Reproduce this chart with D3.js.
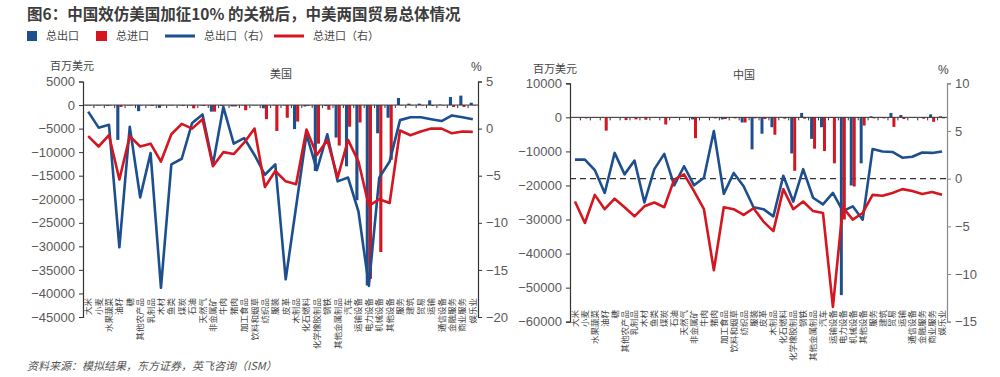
<!DOCTYPE html>
<html>
<head>
<meta charset="utf-8">
<script src="https://cdn.jsdelivr.net/npm/d3@7"></script>
<style>
  body { margin: 0; background: #fff; }
  svg { display: block; font-family: "Liberation Sans", Arial, "Noto Sans CJK SC", sans-serif; }
  .cn { font-family: "Noto Sans CJK SC", sans-serif; }
</style>
</head>
<body>
<div id="chart"></div>
<script>
const categories = ["大米", "小麦", "水果蔬菜", "油籽", "糖", "其他农产品", "乳制品", "木材", "鱼类", "煤炭",
  "石油", "天然气", "非金属矿", "牛肉", "猪肉", "加工食品", "饮料和烟草", "纺织品", "服装", "皮革",
  "木制品", "化石燃料", "化学橡胶制品", "钢铁", "其他金属制品", "汽车", "运输设备", "电力设备", "机械设备", "其他设备",
  "服务", "建筑", "贸易", "运输", "通信设备", "金融服务", "商业服务", "娱乐业"];

// 美国：百万美元
const usExport = [-100, -100, -200, -7400, -100, -1300, -100, -600, -100, -100,
  -100, -100, -1400, -200, -300, -100, -100, -700, -100, -100,
  -5100, -300, -14000, -200, -6900, -13000, -20200, -38300, -6000, -2700,
  1500, 300, 300, 1000, 100, 1700, 2000, 500];
const usImport = [-100, -100, -100, -400, -100, -100, -200, -100, -100, -200,
  -700, -200, -1400, -100, -300, -1100, -100, -3000, -5500, -2700,
  -3500, -200, -8200, -1000, -8600, -4600, -3700, -36900, -31200, -11600,
  -100, -100, -100, -200, -100, -400, -400, -100];
// 美国：%（右）
const usExportPct = [1.8, 0.1, 0.4, -12.6, 0.2, -7.3, -2.6, -16.9, -3.8, -3.2,
  0.6, 1.5, -3.8, 2.3, -1.6, -1.0, -2.8, -4.9, -3.8, -16.0,
  -8.3, -0.6, -4.4, -0.6, -5.6, -5.2, -8.8, -16.7, -5.2, -3.5,
  0.9, 1.2, 1.2, 1.0, 0.8, 1.4, 1.2, 1.0];
const usImportPct = [-0.8, -1.9, -0.7, -5.4, -0.8, -1.9, -1.6, -3.5, -0.6, 0.5,
  0.0, 1.0, -4.0, -2.5, -2.7, -1.5, 0.0, -6.2, -4.5, -5.6,
  -5.9, -0.1, -2.8, -1.2, -5.2, -1.2, -3.5, -8.2, -7.5, -7.9,
  -0.2, -0.7, -0.3, 0.0, 0.0, -0.5, -0.3, -0.35];

// 中国：百万美元
const cnExport = [-100, -100, -100, -100, -100, -100, -100, -100, -100, -100,
  -100, -100, -600, -100, -100, -600, -100, -1500, -9400, -4800,
  -2900, -100, -10600, 1300, -6300, -2900, -200, -52200, -20000, -13500,
  300, 100, 1300, 700, 100, 100, 900, 300];
const cnImport = [-100, -300, -200, -3900, -100, -800, -600, -700, -100, -2100,
  -200, -100, -6100, -100, -300, -500, -300, -1500, -300, -500,
  -5100, -400, -15700, -400, -9200, -9900, -13500, -30000, -20300, -2400,
  -300, -300, -2800, -500, -200, -400, -1300, -300];
// 中国：%（右）
const cnExportPct = [2.0, 2.0, 0.9, -1.5, 2.7, 0.45, 1.9, -2.5, 1.0, 2.6,
  -0.7, 1.3, -0.7, 0.1, 5.0, -1.6, 0.6, -0.8, -3.0, -3.2,
  -3.95, 0.3, -2.4, 1.0, -2.0, -2.7, -1.5, -3.4, -2.9, -4.3,
  3.1, 2.85, 2.8, 2.2, 2.3, 2.75, 2.7, 2.85];
const cnImportPct = [-2.4, -4.65, -1.7, -3.2, -2.1, -3.0, -3.95, -2.9, -2.5, -3.0,
  -0.1, 0.45, -1.3, -3.2, -9.6, -3.0, -3.2, -3.8, -3.1, -4.5,
  -5.5, -1.1, -3.2, -2.4, -3.4, -3.6, -13.45, -3.0, -4.3, -3.6,
  -1.7, -1.8, -1.5, -1.1, -1.3, -1.6, -1.4, -1.7];

const usLeftTicks = [5000, 0, -5000, -10000, -15000, -20000, -25000, -30000, -35000, -40000, -45000];
const usRightTicks = [5, 0, -5, -10, -15, -20];
const cnLeftTicks = [10000, 0, -10000, -20000, -30000, -40000, -50000, -60000];
const cnRightTicks = [10, 5, 0, -5, -10, -15];

const blue = "#1d4f8e", red = "#d3161f";
const tickGrey = "#5a5a5a", axisGrey = "#333";

const width = 1000, height = 377;
const svg = d3.select("#chart").append("svg")
  .attr("width", width).attr("height", height)
  .attr("viewBox", [0, 0, width, height]);

// title
svg.append("text").attr("class", "cn")
  .attr("x", 27).attr("y", 20)
  .attr("font-size", 15.5).attr("font-weight", "bold").attr("fill", "#3c3c3c")
  .text("图6：中国效仿美国加征10% 的关税后，中美两国贸易总体情况");

// legend
const legend = svg.append("g").attr("class", "cn").attr("font-size", 11).attr("fill", "#444");
legend.append("rect").attr("x", 27).attr("y", 31).attr("width", 10).attr("height", 10).attr("fill", blue);
legend.append("text").attr("x", 46).attr("y", 40).text("总出口");
legend.append("rect").attr("x", 96).attr("y", 31).attr("width", 11).attr("height", 10).attr("fill", red);
legend.append("text").attr("x", 116).attr("y", 40).text("总进口");
legend.append("line").attr("x1", 165).attr("x2", 195).attr("y1", 36).attr("y2", 36)
  .attr("stroke", blue).attr("stroke-width", 3);
legend.append("text").attr("x", 204).attr("y", 40).text("总出口（右）");
legend.append("line").attr("x1", 274).attr("x2", 304).attr("y1", 36).attr("y2", 36)
  .attr("stroke", red).attr("stroke-width", 3);
legend.append("text").attr("x", 313).attr("y", 40).text("总进口（右）");

// source
svg.append("text").attr("class", "cn")
  .attr("x", 27).attr("y", 370)
  .attr("font-size", 11).attr("font-style", "italic").attr("fill", "#555")
  .text("资料来源：模拟结果，东方证券，英飞咨询（ISM）");

function panel(o) {
  const x = d3.scaleBand().domain(categories).range([o.x0, o.x1]);
  const yL = d3.scaleLinear().domain(o.leftDomain).range([o.yBottom, o.yTop]);
  const yR = d3.scaleLinear().domain(o.rightDomain).range([o.yBottom, o.yTop]);
  const bw = x.bandwidth();
  const sub = d3.scaleBand().domain(["exp", "imp"]).range([bw * 0.2, bw * 0.8]);

  const g = svg.append("g");

  // dashed zero line of the right axis
  if (o.dashed) {
    g.append("line")
      .attr("x1", o.x0).attr("x2", o.x1)
      .attr("y1", yR(0)).attr("y2", yR(0))
      .attr("stroke", "#333").attr("stroke-width", 1.2).attr("stroke-dasharray", "6,4");
  }

  // bars
  const rows = categories.map((c, i) => ({ c, exp: o.exp[i], imp: o.imp[i] }));
  g.append("g").selectAll("rect")
    .data(rows.flatMap(d => [{ c: d.c, k: "exp", v: d.exp }, { c: d.c, k: "imp", v: d.imp }]))
    .join("rect")
    .attr("x", d => x(d.c) + sub(d.k))
    .attr("width", sub.bandwidth())
    .attr("y", d => yL(Math.max(0, d.v)))
    .attr("height", d => Math.abs(yL(d.v) - yL(0)))
    .attr("fill", d => d.k === "exp" ? blue : red);

  // x axis at zero
  const xb = d3.scaleLinear().domain([0, categories.length]).range([o.x0, o.x1]);
  g.append("g")
    .attr("transform", `translate(0,${yL(0)})`)
    .call(d3.axisBottom(xb).tickValues(d3.range(categories.length + 1)).tickSize(3).tickFormat(""))
    .call(a => a.select(".domain").attr("stroke", axisGrey).attr("d", `M${o.x0},0H${o.x1}`))
    .call(a => a.selectAll(".tick line").attr("stroke", axisGrey));

  // lines
  const line = d3.line().x((d, i) => x(categories[i]) + bw / 2).y(d => yR(d));
  g.append("path").datum(o.expPct)
    .attr("fill", "none").attr("stroke", blue).attr("stroke-width", 2.6)
    .attr("stroke-linejoin", "round").attr("d", line);
  g.append("path").datum(o.impPct)
    .attr("fill", "none").attr("stroke", red).attr("stroke-width", 2.6)
    .attr("stroke-linejoin", "round").attr("d", line);

  // left axis
  g.append("g")
    .attr("transform", `translate(${o.x0},0)`)
    .call(d3.axisLeft(yL).tickValues(o.leftTicks).tickSize(4).tickPadding(4).tickFormat(d3.format("d")))
    .call(a => a.select(".domain").attr("stroke", axisGrey).attr("stroke-width", 1.2))
    .call(a => a.selectAll(".tick line").attr("stroke", axisGrey))
    .call(a => a.selectAll("text").attr("fill", tickGrey).attr("font-size", 13)
      .attr("font-family", "'Liberation Sans', Arial, sans-serif"));

  // right axis
  g.append("g")
    .attr("transform", `translate(${o.x1},0)`)
    .call(d3.axisRight(yR).tickValues(o.rightTicks).tickSize(4).tickPadding(4).tickFormat(d3.format("d")))
    .call(a => a.select(".domain").attr("stroke", o.rightAxisColor).attr("stroke-width", 1.2))
    .call(a => a.selectAll(".tick line").attr("stroke", o.rightAxisColor))
    .call(a => a.selectAll("text").attr("fill", tickGrey).attr("font-size", 13)
      .attr("font-family", "'Liberation Sans', Arial, sans-serif"));

  // category labels
  g.append("g").attr("class", "cn").selectAll("text")
    .data(categories)
    .join("text")
    .attr("transform", d => `translate(${x(d) + bw / 2 + 3},${o.labelY}) rotate(-90)`)
    .attr("text-anchor", "end")
    .attr("font-size", 8.5)
    .attr("fill", "#444")
    .text(d => d);

  // titles
  const t = g.append("g").attr("class", "cn").attr("font-size", 11).attr("fill", "#444");
  t.append("text").attr("x", o.unitX).attr("y", o.unitY).text("百万美元");
  t.append("text").attr("x", o.nameX).attr("y", o.nameY).text(o.name);
  t.append("text").attr("x", o.pctX).attr("y", o.unitY + 1)
    .attr("font-family", "'Liberation Sans', Arial, sans-serif").attr("font-size", 12).text("%");
}

panel({
  name: "美国", x0: 83, x1: 478, yTop: 81.5, yBottom: 317,
  leftDomain: [-45000, 5000], rightDomain: [-20, 5],
  leftTicks: usLeftTicks, rightTicks: usRightTicks,
  exp: usExport, imp: usImport, expPct: usExportPct, impPct: usImportPct,
  dashed: false, rightAxisColor: axisGrey, labelY: 298,
  unitX: 50, unitY: 70, nameX: 270, nameY: 78, pctX: 471
});

panel({
  name: "中国", x0: 570, x1: 947, yTop: 83.3, yBottom: 321.7,
  leftDomain: [-60000, 10000], rightDomain: [-15, 10],
  leftTicks: cnLeftTicks, rightTicks: cnRightTicks,
  exp: cnExport, imp: cnImport, expPct: cnExportPct, impPct: cnImportPct,
  dashed: true, rightAxisColor: "#888", labelY: 310,
  unitX: 533, unitY: 73, nameX: 733, nameY: 79, pctX: 938
});
</script>
</body>
</html>
